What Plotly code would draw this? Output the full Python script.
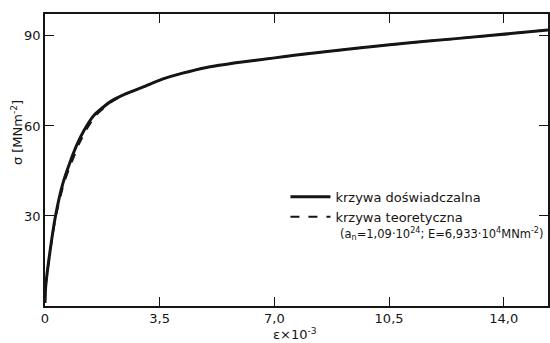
import plotly.graph_objects as go

# experimental curve (krzywa doświadczalna)
exp_strain = [0, 0.02, 0.15, 0.32, 0.55, 0.75, 0.985, 1.19, 1.49, 2.0, 2.51, 3.02, 3.58, 4.2, 4.93, 5.95, 6.95, 7.67, 9.5, 11.53, 13.57, 15.35]
exp_sigma = [1, 6.4, 18, 30, 41, 47.5, 54, 58.5, 63.5, 68.1, 70.9, 73.1, 75.6, 77.6, 79.5, 81.2, 82.6, 83.6, 85.9, 88.1, 90.1, 92]

# theoretical curve (krzywa teoretyczna)
th_strain = [0, 0.02, 0.15, 0.33, 0.58, 0.8, 1.04, 1.25, 1.55, 2.04, 2.53, 3.02, 3.58, 4.2, 4.93, 5.95, 6.95, 7.67, 9.5, 11.53, 13.57, 15.35]
th_sigma = [1, 6.4, 17.7, 29.8, 41, 47.5, 54, 58.5, 63.5, 68.1, 70.9, 73.1, 75.6, 77.6, 79.5, 81.2, 82.6, 83.6, 85.9, 88.1, 90.1, 92]

x_ticks = [0, 3.5, 7.0, 10.5, 14.0]
x_tick_labels = ["0", "3,5", "7,0", "10,5", "14,0"]
y_ticks = [30, 60, 90]
y_tick_labels = ["30", "60", "90"]

FONT = "DejaVu Sans, Liberation Sans, sans-serif"
INK = "#151515"

fig = go.Figure()
fig.add_trace(go.Scatter(
    x=exp_strain, y=exp_sigma, mode="lines", name="krzywa doświadczalna",
    line=dict(color=INK, width=3, shape="spline", smoothing=0.6),
))
fig.add_trace(go.Scatter(
    x=th_strain, y=th_sigma, mode="lines", name="krzywa teoretyczna",
    line=dict(color=INK, width=2, dash="dash", shape="spline", smoothing=0.6),
))

fig.update_layout(
    width=550, height=343,
    margin=dict(l=45, r=2, t=14, b=37),
    paper_bgcolor="white", plot_bgcolor="white",
    font=dict(family=FONT, size=13, color=INK),
    showlegend=True,
    legend=dict(
        x=0.478, y=0.425, xanchor="left", yanchor="top",
        bgcolor="rgba(0,0,0,0)", borderwidth=0,
        font=dict(family=FONT, size=13, color=INK),
        itemwidth=40, tracegroupgap=0,
    ),
    annotations=[
        dict(
            x=0.5825, y=0.247, xref="paper", yref="paper", xanchor="left", yanchor="middle",
            text="(a<sub>n</sub>=1,09·10<sup>24</sup>; E=6,933·10<sup>4</sup>MNm<sup>-2</sup>)",
            showarrow=False, font=dict(family=FONT, size=11.5, color=INK),
        ),
        dict(
            x=0.497, y=-0.095, xref="paper", yref="paper", xanchor="center", yanchor="middle",
            text="ε×10<sup>-3</sup>", showarrow=False,
            font=dict(family=FONT, size=13, color=INK),
        ),
        dict(
            x=-0.056, y=0.595, xref="paper", yref="paper", xanchor="center", yanchor="middle",
            text="σ [MNm<sup>-2</sup>]", showarrow=False, textangle=-90,
            font=dict(family=FONT, size=13, color=INK),
        ),
    ],
)

fig.update_xaxes(
    range=[0, 15.35], tickvals=x_ticks, ticktext=x_tick_labels,
    showline=True, linecolor=INK, linewidth=1.5, mirror="ticks",
    ticks="inside", ticklen=9, tickwidth=1.2, tickcolor=INK,
    showgrid=False, zeroline=False, automargin=False,
)
fig.update_yaxes(
    range=[0, 97.3], tickvals=y_ticks, ticktext=y_tick_labels,
    showline=True, linecolor=INK, linewidth=1.5, mirror="ticks",
    ticks="inside", ticklen=9, tickwidth=1.2, tickcolor=INK,
    showgrid=False, zeroline=False, automargin=False,
)

fig.write_html(
    "out.html",
    config={"displayModeBar": False},
    post_script="document.body.style.margin='0';document.body.style.overflow='hidden';",
)
